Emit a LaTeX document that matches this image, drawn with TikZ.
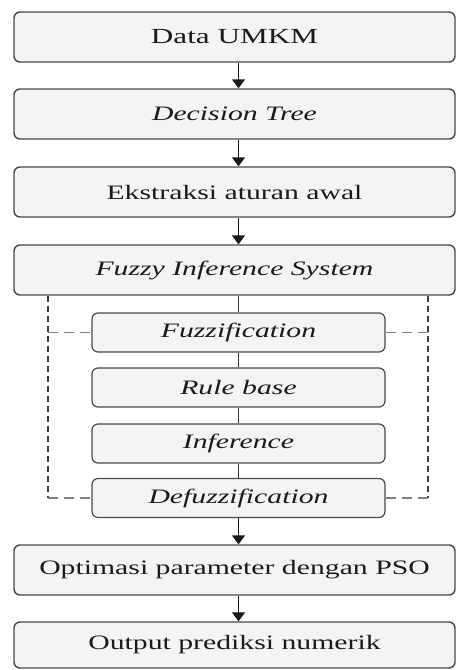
\documentclass[tikz,border=0pt]{standalone}
\usepackage{fontspec}
\setmainfont{Liberation Serif}[FakeStretch=1.45]
\usetikzlibrary{arrows.meta}
\definecolor{boxfill}{HTML}{F4F4F4}
\definecolor{boxline}{HTML}{4A4A4A}
\definecolor{txt}{HTML}{1A1A1A}
\begin{document}
\begin{tikzpicture}[x=1pt,y=-1pt,
  bigbox/.style={draw=boxline, fill=boxfill, line width=1.4pt, rounded corners=6pt,
    minimum width=441pt, minimum height=50pt, inner sep=0pt, text=txt,
    font=\fontsize{20.5}{24}\selectfont},
  smallbox/.style={draw=boxline, fill=boxfill, line width=1.2pt, rounded corners=6pt,
    minimum width=293pt, minimum height=39pt, inner sep=0pt, text=txt,
    font=\fontsize{20.5}{24}\selectfont\itshape},
  flow/.style={draw=black!90, line width=1.5pt, -{Triangle[length=9pt,width=13pt]}},
  link/.style={draw=black!80, line width=1.3pt},
  dashv/.style={draw=black!75, line width=1.2pt, dash pattern=on 6pt off 4pt},
  dashh/.style={draw=black!50, line width=1.2pt, dash pattern=on 10pt off 6pt}]
\useasboundingbox (0,0) rectangle (456,670);
\fill[white] (0,0) rectangle (456,670);

\node[bigbox] (b1) at (234.5,37) {\fontsize{21.5}{24}\selectfont Data UMKM};
\node[bigbox] (b2) at (234.5,114) {\itshape Decision Tree};
\node[bigbox] (b3) at (234.5,192) {Ekstraksi aturan awal};
\node[bigbox] (b4) at (234.5,270) {\itshape Fuzzy Inference System};

\coordinate (dl) at (48,0);
\coordinate (dr) at (428,0);

\node[smallbox] (fuz) at (238.5,332.5) {Fuzzification};
\node[smallbox] (rul) at (238.5,387.5) {Rule base};
\node[smallbox] (inf) at (238.5,443.5) {Inference};
\node[smallbox] (def) at (238.5,498) {Defuzzification};

\node[bigbox] (opt) at (234.5,570) {Optimasi parameter dengan PSO};
\node[bigbox, minimum height=46pt] (out) at (234.5,645) {Output prediksi numerik};

\draw[flow] (b1.south -| fuz.center) -- (b2.north -| fuz.center);
\draw[flow] (b2.south -| fuz.center) -- (b3.north -| fuz.center);
\draw[flow] (b3.south -| fuz.center) -- (b4.north -| fuz.center);
\draw[link] (b4.south -| fuz.center) -- (fuz.north);
\draw[link] (fuz.south) -- (rul.north);
\draw[link] (rul.south) -- (inf.north);
\draw[link] (inf.south) -- (def.north);
\draw[flow] (def.south) -- (opt.north -| def.center);
\draw[flow] (opt.south -| def.center) -- (out.north -| def.center);

\draw[dashv] (b4.south -| dl) -- (dl |- def.west);
\draw[dashv] (b4.south -| dr) -- (dr |- def.east);
\draw[dashh] (dl |- def.west) -- (def.west);
\draw[dashh] (dr |- def.east) -- (def.east);
\draw[dashh] (dl |- fuz.west) -- (fuz.west);
\draw[dashh] (dr |- fuz.east) -- (fuz.east);
\end{tikzpicture}
\end{document}
